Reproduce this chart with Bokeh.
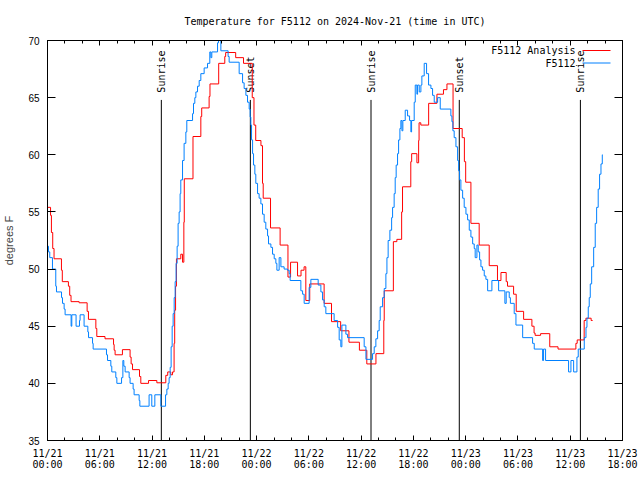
import numpy as np
from bokeh.plotting import figure
from bokeh.models import (Range1d, FixedTicker, DatetimeTickFormatter, LinearAxis,
                          DatetimeAxis, ColumnDataSource, Label, BoxAnnotation)
from bokeh.core.properties import value
from bokeh.embed import file_html
from bokeh.resources import INLINE

START = np.datetime64("2024-11-21T00:00")
END_HOURS = 66

# ---- data (hours after 2024-11-21 00:00 UTC, degrees F) ----
red_hours = [0.0, 0.35, 0.45, 0.6, 0.75, 1.6, 1.7, 2.4, 2.55, 2.7,
             3.63, 4.55, 4.7, 5.55, 5.66, 6.6, 7.58, 7.65, 7.76, 8.6,
             9.48, 9.6, 9.76, 10.56, 10.71, 11.6, 12.55, 13.58, 13.8, 14.15,
             14.35, 14.53, 14.6, 14.7, 14.8, 15.3, 15.5, 15.65, 15.7, 16.7,
             17.6, 17.7, 18.55, 18.65, 19.65, 20.35, 20.45, 21.6, 22.5, 23.5,
             23.7, 23.9, 24.5, 24.68, 24.76, 25.6, 26.7, 27.6, 27.9, 28.7,
             29.1, 29.45, 29.65, 30.1, 31.75, 32.6, 33.65, 34.6, 35.8, 36.65,
             37.7, 38.6, 38.65, 39.7, 40.1, 40.65, 40.75, 41.7, 41.8, 42.4,
             42.6, 42.65, 42.85, 43.75, 44.7, 45.45, 45.85, 46.55, 47.6, 47.85,
             48.0, 48.6, 49.55, 50.7, 51.65, 52.05, 52.65, 52.8, 53.5, 53.8,
             54.65, 55.6, 55.85, 55.97, 56.6, 57.65, 58.6, 60.65, 60.8, 61.6,
             61.8, 62.4, 62.57]
red_temps = [55.4, 54.7, 53.2, 51.8, 50.9, 49.9, 48.9, 48.5, 47.7, 47.15,
             47.05, 46.3, 45.6, 44.8, 44.1, 43.9, 43.4, 42.9, 42.5, 42.95,
             42.3, 41.7, 41.2, 40.6, 40.0, 40.25, 40.05, 40.7, 41.0, 40.75,
             41.0, 43.5, 46.4, 48.5, 50.9, 51.3, 50.6, 54.1, 57.9, 61.6,
             63.35, 64.1, 65.1, 66.2, 68.0, 68.6, 68.95, 68.5, 68.0, 65.0,
             62.6, 61.25, 60.8, 57.5, 56.2, 53.6, 52.1, 49.3, 50.6, 49.4,
             49.9, 50.2, 47.25, 48.7, 47.0, 45.4, 44.6, 43.6, 42.9, 41.7,
             42.6, 45.5, 48.1, 52.4, 52.6, 55.0, 57.2, 59.4, 60.1, 59.3,
             61.25, 62.8, 62.6, 64.5, 65.3, 65.7, 66.2, 62.3, 61.5, 59.4,
             57.6, 54.0, 52.1, 50.3, 49.0, 49.7, 48.9, 48.5, 47.8, 46.3,
             45.6, 45.0, 44.4, 44.2, 44.35, 43.2, 43.0, 43.5, 43.8, 45.5,
             45.7, 45.5, 45.5]

blue_hours = [0.0, 0.11, 0.26, 0.57, 0.95, 1.03, 1.61, 1.72, 1.91, 2.02,
              2.71, 2.79, 3.28, 3.67, 3.74, 4.2, 4.63, 4.71, 5.17, 5.24,
              6.77, 6.89, 7.27, 7.38, 7.84, 7.96, 8.5, 8.65, 8.76, 8.91,
              9.37, 9.48, 9.83, 9.94, 10.52, 10.6, 11.66, 11.97, 12.32, 13.01,
              13.55, 13.7, 13.85, 13.96, 14.08, 14.19, 14.31, 14.42, 14.54, 14.65,
              14.76, 14.88, 14.99, 15.11, 15.22, 15.3, 15.5, 15.68, 15.88, 15.99,
              16.65, 16.76, 16.91, 17.03, 17.22, 17.41, 17.6, 17.98, 18.37, 18.63,
              18.75, 18.86, 19.52, 19.63, 19.9, 20.73, 20.85, 22.0, 22.39, 22.57,
              22.77, 22.96, 23.15, 23.26, 23.34, 23.42, 23.54, 23.65, 23.8, 23.91,
              24.11, 24.29, 24.49, 24.68, 24.87, 25.06, 25.26, 25.37, 25.64, 25.83,
              26.02, 26.21, 26.33, 26.59, 26.79, 27.16, 27.55, 27.74, 27.85, 29.08,
              29.28, 29.46, 30.03, 30.23, 31.07, 31.38, 31.57, 31.76, 31.95, 32.9,
              33.3, 33.48, 33.67, 33.79, 34.25, 34.44, 36.35, 36.55, 37.31, 37.5,
              37.69, 37.89, 38.07, 38.19, 38.46, 38.65, 38.84, 38.96, 39.1, 39.3,
              39.5, 39.61, 39.79, 39.91, 40.02, 40.18, 40.3, 40.45, 40.56, 40.68,
              40.79, 41.06, 41.33, 41.56, 41.71, 41.79, 42.09, 42.21, 42.4, 42.48,
              42.67, 42.86, 42.97, 43.24, 43.51, 43.74, 44.01, 44.2, 44.39, 44.78,
              45.08, 46.3, 46.42, 46.53, 46.68, 46.88, 47.07, 47.19, 47.3, 47.45,
              47.65, 47.83, 48.03, 48.22, 48.41, 48.6, 48.8, 48.98, 49.09, 49.29,
              49.44, 49.6, 49.75, 49.94, 50.13, 50.32, 50.52, 51.01, 51.78, 52.5,
              52.65, 53.0, 53.13, 53.57, 53.77, 54.54, 55.68, 55.87, 56.83, 56.94,
              57.17, 59.81, 60.08, 60.39, 60.77, 60.92, 61.61, 61.81, 61.92, 62.07,
              62.18, 62.3, 62.46, 62.69, 62.87, 63.03, 63.21, 63.37, 63.53, 63.68,
              63.73]
blue_temps = [52.0, 51.5, 51.0, 50.0, 48.5, 48.0, 47.5, 47.0, 46.5, 46.0,
              45.0, 46.0, 45.0, 45.5, 46.0, 45.0, 44.5, 44.0, 43.5, 43.0,
              42.5, 42.0, 41.5, 41.0, 40.5, 40.0, 40.5, 42.0, 41.5, 41.0,
              40.5, 40.0, 39.5, 39.0, 38.5, 38.0, 39.0, 38.0, 39.0, 38.0,
              39.0, 39.5, 40.0, 40.5, 41.4, 43.2, 45.0, 46.1, 47.5, 48.9,
              50.5, 52.0, 54.0, 55.0, 56.6, 57.8, 59.5, 61.0, 62.0, 63.0,
              63.6, 64.5, 65.0, 65.5, 66.0, 66.5, 67.1, 67.6, 68.0, 69.0,
              68.5, 69.0, 69.8, 70.0, 69.1, 68.6, 68.1, 67.1, 66.3, 65.8,
              65.2, 64.6, 64.0, 63.3, 62.6, 61.3, 60.1, 59.1, 58.3, 57.5,
              56.6, 56.2, 55.7, 54.8, 54.1, 53.5, 52.9, 52.2, 51.9, 51.3,
              50.9, 50.5, 49.9, 51.0, 50.2, 50.0, 49.9, 49.6, 49.0, 48.1,
              47.8, 47.0, 48.4, 49.1, 48.6, 48.0, 47.3, 46.7, 46.1, 45.5,
              44.9, 43.8, 43.2, 45.1, 44.3, 44.0, 43.2, 42.1, 42.6, 43.2,
              43.9, 44.6, 45.5, 46.7, 47.5, 48.3, 49.6, 51.0, 52.5, 53.4,
              54.5, 55.4, 56.6, 58.0, 59.1, 60.1, 61.3, 62.3, 63.0, 62.1,
              63.0, 63.9, 63.4, 63.0, 62.0, 63.0, 64.6, 66.1, 65.3, 66.1,
              65.5, 66.1, 66.9, 68.0, 67.1, 66.1, 65.8, 65.2, 64.6, 65.0,
              64.0, 63.4, 62.9, 62.1, 61.5, 60.7, 59.5, 58.6, 57.8, 56.9,
              56.2, 55.4, 54.8, 54.3, 53.4, 52.8, 52.2, 51.8, 51.0, 52.1,
              51.5, 50.8, 50.2, 49.9, 49.4, 49.1, 48.1, 49.0, 48.1, 47.0,
              48.0, 47.5, 47.0, 46.1, 45.1, 44.0, 43.5, 43.0, 42.0, 43.0,
              42.0, 41.0, 42.0, 41.0, 42.3, 43.0, 44.0, 44.9, 45.7, 46.7,
              47.5, 48.7, 50.2, 51.9, 54.0, 55.4, 57.0, 58.3, 59.2, 60.0,
              60.0]

sun_times = ["2024-11-21T13:04", "2024-11-21T23:17", "2024-11-22T13:08",
             "2024-11-22T23:16", "2024-11-23T13:10"]
sun_labels = ["Sunrise", "Sunset", "Sunrise", "Sunset", "Sunrise"]

series_labels = ["F5112 Analysis", "F5112"]
series_colors = ["#ff0000", "#0080ff"]

x_major_hours = list(range(0, 67, 6))
x_minor_hours = list(range(0, 67, 2))
y_ticks = [35, 40, 45, 50, 55, 60, 65, 70]

# ---- helpers ----
def to_dt(hours):
    return START + (np.asarray(hours, dtype=float) * 3600e3).astype("timedelta64[ms]")

def to_ms(dts):
    return ((np.asarray(dts, dtype="datetime64[ms]") - np.datetime64("1970-01-01T00:00", "ms"))
            / np.timedelta64(1, "ms")).tolist()

nr = min(len(red_hours), len(red_temps))
nb = min(len(blue_hours), len(blue_temps))
red_src = ColumnDataSource(dict(t=to_dt(red_hours[:nr]), v=red_temps[:nr]))
blue_src = ColumnDataSource(dict(t=to_dt(blue_hours[:nb]), v=blue_temps[:nb]))
sun_dt = np.array(sun_times, dtype="datetime64[ms]")
sun_src = ColumnDataSource(dict(t=sun_dt, y0=[35.0] * len(sun_dt), y1=[64.8] * len(sun_dt),
                                ty=[65.0] * len(sun_dt), lab=sun_labels))

x_start, x_end = to_ms(to_dt([0, END_HOURS]))

MONO = "DejaVu Sans Mono"
SANS = "Liberation Sans"

p = figure(width=640, height=480, x_axis_type="datetime",
           x_range=Range1d(x_start, x_end), y_range=Range1d(35, 70),
           output_backend="svg", toolbar_location=None,
           min_border_left=47, min_border_right=18, min_border_top=40, min_border_bottom=40)

p.title.text = "Temperature for F5112 on 2024-Nov-21 (time in UTC)"
p.title.align = "center"
p.title.text_font = MONO
p.title.text_font_size = "10px"
p.title.text_font_style = "normal"
p.title.text_color = "black"
p.title.standoff = 27

p.grid.visible = False
p.outline_line_color = "black"
p.outline_line_width = 1
p.background_fill_color = "white"
p.border_fill_color = "white"

fmt = "%m/%d\n%H:%M"
x_fmt = DatetimeTickFormatter(hours=fmt, hourmin=fmt, days=fmt, minutes=fmt, minsec=fmt,
                              months=fmt, years=fmt, strip_leading_zeros=False)
x_ticker = FixedTicker(ticks=to_ms(to_dt(x_major_hours)), minor_ticks=to_ms(to_dt(x_minor_hours)))
y_ticker = FixedTicker(ticks=y_ticks, minor_ticks=[])

xa = p.xaxis[0]
xa.ticker = x_ticker
xa.formatter = x_fmt
xa.major_tick_in = 5
xa.major_tick_out = 0
xa.minor_tick_in = 3
xa.minor_tick_out = 0
xa.major_label_standoff = 7
xa.major_label_text_font = MONO
xa.major_label_text_font_size = "10px"
xa.major_label_text_line_height = 1.0
xa.major_label_text_color = "black"
xa.axis_line_color = "black"

ya = p.yaxis[0]
ya.ticker = y_ticker
ya.major_tick_in = 8
ya.major_tick_out = 0
ya.minor_tick_line_color = None
ya.major_label_standoff = 8
ya.major_label_text_font = SANS
ya.major_label_text_font_size = "10px"
ya.major_label_text_color = "black"
ya.axis_label = "degrees F"
ya.axis_label_text_font = SANS
ya.axis_label_text_font_size = "11px"
ya.axis_label_text_font_style = "normal"
ya.axis_label_standoff = 10
ya.axis_line_color = "black"

top = DatetimeAxis(ticker=x_ticker, formatter=x_fmt, major_tick_in=5, major_tick_out=0,
                   minor_tick_in=3, minor_tick_out=0, major_label_text_font_size="0px",
                   major_label_text_color=None, major_label_standoff=0, axis_line_color="black")
p.add_layout(top, "above")
right = LinearAxis(ticker=y_ticker, major_tick_in=8, major_tick_out=0,
                   minor_tick_line_color=None, major_label_text_font_size="0px",
                   major_label_text_color=None, major_label_standoff=0, axis_line_color="black")
p.add_layout(right, "right")

# sunrise / sunset markers
p.segment(x0="t", y0="y0", x1="t", y1="y1", source=sun_src, line_color="black", line_width=1)
p.text(x="t", y="ty", text="lab", source=sun_src, angle=np.pi / 2, text_align="left",
       text_baseline="middle", y_offset=-5, text_font=value(MONO), text_font_size="10px",
       text_color="black")

r_red = p.step(x="t", y="v", source=red_src, mode="after", line_color=series_colors[0], line_width=1)
r_blue = p.step(x="t", y="v", source=blue_src, mode="after", line_color=series_colors[1], line_width=1)

# key (gnuplot style: text right-aligned, sample line to its right), in screen units of the frame
for i, (lab, col) in enumerate(zip(series_labels, series_colors)):
    yk = 390 - 12.5 * i
    p.add_layout(BoxAnnotation(left=535, right=563, bottom=yk - 0.5, top=yk + 0.5,
                               left_units="screen", right_units="screen",
                               bottom_units="screen", top_units="screen",
                               fill_color=col, fill_alpha=1, line_color=None))
    p.add_layout(Label(x=528, y=yk, x_units="screen", y_units="screen",
                       text=lab, text_align="right", text_baseline="middle",
                       text_font=MONO, text_font_size="10px", text_color="black"))

open("out.html", "w").write(file_html(p, INLINE))
